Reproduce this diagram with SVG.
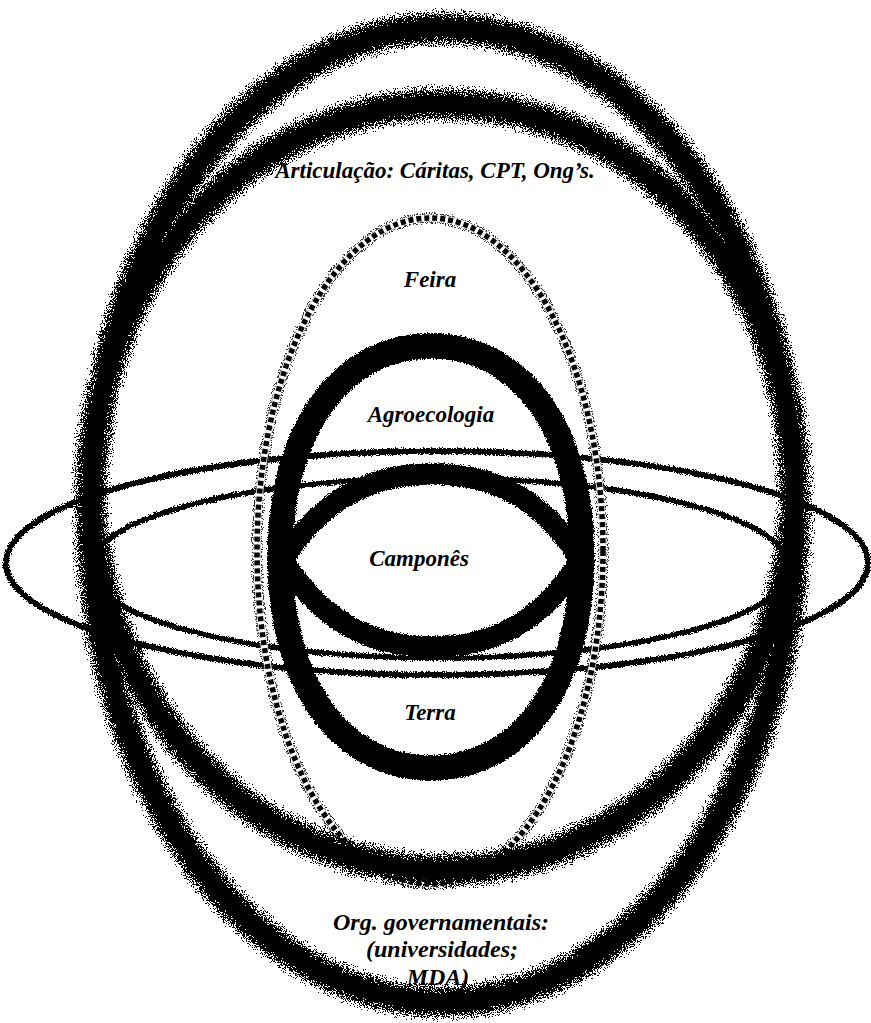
<svg xmlns="http://www.w3.org/2000/svg" width="871" height="1023" viewBox="0 0 871 1023">
<defs>
<filter id="ditherBig" x="-10%" y="-10%" width="120%" height="120%" color-interpolation-filters="sRGB">
<feGaussianBlur in="SourceAlpha" stdDeviation="5" result="b"/>
<feTurbulence type="fractalNoise" baseFrequency="0.9" numOctaves="2" seed="3" result="n"/>
<feColorMatrix in="n" type="matrix" values="0 0 0 0 0  0 0 0 0 0  0 0 0 0 0  1 0 0 0 0" result="nr0"/>
<feComponentTransfer in="nr0" result="nr"><feFuncA type="linear" slope="3" intercept="-1"/></feComponentTransfer>
<feComposite in="b" in2="nr" operator="arithmetic" k1="0" k2="1" k3="-0.8" k4="0.36" result="d"/>
<feComponentTransfer in="d" result="t"><feFuncA type="discrete" tableValues="0 1"/></feComponentTransfer>
<feFlood flood-color="#000"/>
<feComposite in2="t" operator="in"/>
</filter>
<filter id="ditherMid" x="-10%" y="-10%" width="120%" height="120%" color-interpolation-filters="sRGB">
<feGaussianBlur in="SourceAlpha" stdDeviation="1.3" result="b"/>
<feTurbulence type="fractalNoise" baseFrequency="0.9" numOctaves="2" seed="5" result="n"/>
<feColorMatrix in="n" type="matrix" values="0 0 0 0 0  0 0 0 0 0  0 0 0 0 0  1 0 0 0 0" result="nr0"/>
<feComponentTransfer in="nr0" result="nr"><feFuncA type="linear" slope="3" intercept="-1"/></feComponentTransfer>
<feComposite in="b" in2="nr" operator="arithmetic" k1="0" k2="1" k3="-0.6" k4="0.38" result="d"/>
<feComponentTransfer in="d" result="t"><feFuncA type="discrete" tableValues="0 1"/></feComponentTransfer>
<feFlood flood-color="#000"/>
<feComposite in2="t" operator="in"/>
</filter>
<filter id="ditherHalo" x="-10%" y="-10%" width="120%" height="120%" color-interpolation-filters="sRGB">
<feGaussianBlur in="SourceAlpha" stdDeviation="1.5" result="b"/>
<feTurbulence type="fractalNoise" baseFrequency="0.95" numOctaves="2" seed="9" result="n"/>
<feColorMatrix in="n" type="matrix" values="0 0 0 0 0  0 0 0 0 0  0 0 0 0 0  1 0 0 0 0" result="nr0"/>
<feComponentTransfer in="nr0" result="nr"><feFuncA type="linear" slope="3" intercept="-1"/></feComponentTransfer>
<feComposite in="b" in2="nr" operator="arithmetic" k1="0" k2="1" k3="-0.8" k4="-0.08" result="d"/>
<feComponentTransfer in="d" result="t"><feFuncA type="discrete" tableValues="0 1"/></feComponentTransfer>
<feFlood flood-color="#333"/>
<feComposite in2="t" operator="in"/>
</filter>
</defs>
<style>
.band{fill:none;stroke:#000;stroke-width:30;filter:url(#ditherBig)}
.thin{fill:none;stroke:#000;stroke-width:5;filter:url(#ditherMid)}
.solid{fill:none;stroke:#000;filter:url(#ditherMid)}
.dothalo{fill:none;stroke:#000;stroke-width:13;filter:url(#ditherHalo)}
.dotgap{fill:none;stroke:#fff;stroke-width:7}
.dots{fill:none;stroke:#000;stroke-width:5.5;stroke-dasharray:5 3}
.lbl{font-family:"Liberation Serif","Times New Roman",serif;font-weight:bold;font-style:italic;font-size:23px;fill:#000;text-anchor:middle}
</style>
<rect width="871" height="1023" fill="#fff"/>
<g id="ring-horizontal">
<ellipse class="thin" cx="437" cy="563" rx="431" ry="112" style="stroke-width:5.5"/>
<ellipse class="thin" cx="440" cy="568" rx="350" ry="90"/>
</g>
<g id="node-agroecologia-terra">
<path class="solid" style="stroke-width:25" d="M431 346 C521.6 346 582 430.4 582 557 C582 683.6 521.6 768 431 768 C340.4 768 280 683.6 280 557 C280 430.4 340.4 346 431 346 Z"/>
<text class="lbl" x="431" y="422">Agroecologia</text>
<text class="lbl" x="430" y="720">Terra</text>
</g>
<g id="node-campones">
<path class="solid" style="stroke-width:21" d="M283 560 C325 492 380 474 432 474 C485 474 540 492 580 560 C540 628 485 647 432 647 C380 647 325 628 283 560 Z"/>
<text class="lbl" x="419" y="566">Camponês</text>
</g>
<g id="node-feira">
<ellipse class="dothalo" cx="430" cy="551" rx="173" ry="333"/>
<ellipse class="dotgap" cx="430" cy="551" rx="173" ry="333"/>
<ellipse class="dots" cx="430" cy="551" rx="173" ry="333"/>
<text class="lbl" x="430" y="287">Feira</text>
</g>
<g id="node-articulacao">
<ellipse class="band" cx="443" cy="487" rx="352" ry="383"/>
<text class="lbl" x="435" y="178">Articulação: Cáritas, CPT, Ong’s.</text>
</g>
<g id="node-org-governamentais">
<ellipse class="band" cx="443" cy="515" rx="352" ry="487"/>
<text class="lbl" x="441" y="930" style="font-size:24px">Org. governamentais:</text>
<text class="lbl" x="442" y="957" style="font-size:24px">(universidades;</text>
<text class="lbl" x="438" y="985" style="font-size:24px">MDA)</text>
</g>
<g id="connectors"/>
</svg>
